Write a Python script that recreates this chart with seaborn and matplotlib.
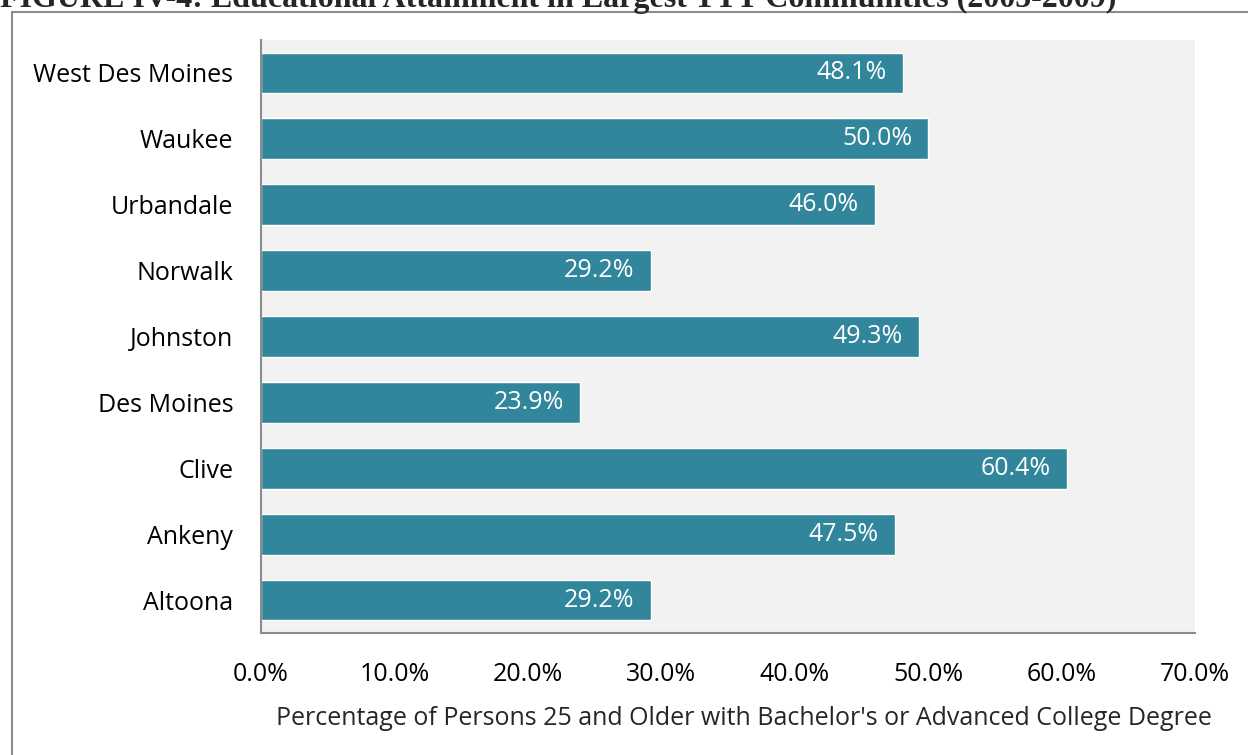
import matplotlib
matplotlib.use("Agg")
import matplotlib.pyplot as plt
from matplotlib.patches import Rectangle
import seaborn as sns
import pandas as pd

# data, top to bottom as in the chart
cities = ["West Des Moines", "Waukee", "Urbandale", "Norwalk", "Johnston",
          "Des Moines", "Clive", "Ankeny", "Altoona"]
pct = [48.1, 50.0, 46.0, 29.2, 49.3, 23.9, 60.4, 47.5, 29.2]
xticks = [0, 10, 20, 30, 40, 50, 60, 70]

df = pd.DataFrame({"City": cities, "Pct": pct})

sns.set_style("white")
plt.rcParams["font.family"] = ["Open Sans", "DejaVu Sans"]

fig = plt.figure(figsize=(12.48, 7.55), dpi=100)
ax = fig.add_axes([261/1248, 1 - 633/755, (1195-261)/1248, (633-40)/755])

bar_color = "#31869b"
sns.barplot(data=df, x="Pct", y="City", color=bar_color, width=0.62,
            saturation=1, ax=ax, order=cities)

fs = 18
ax.set_facecolor("#f2f2f2")
ax.set_xlim(0, 70)
ax.set_ylim(8.5, -0.5)
ax.set_xticks(xticks)
ax.set_xticklabels([f"{t:.1f}%" for t in xticks], fontsize=fs, color="black")
ax.tick_params(axis="x", length=0, pad=21)
ax.tick_params(axis="y", length=0, pad=20, labelsize=fs, labelcolor="black")
ax.set_ylabel("")
ax.set_xlabel("Percentage of Persons 25 and Older with Bachelor's or Advanced College Degree",
              fontsize=fs)
ax.xaxis.set_label_coords((744 - 261) / (1195 - 261), -(706 - 633) / (633 - 40))
for s in ["top", "right"]:
    ax.spines[s].set_visible(False)
for s in ["left", "bottom"]:
    ax.spines[s].set_color("#8c8c8c")
    ax.spines[s].set_linewidth(1.5)

for i, v in enumerate(pct):
    ax.text(v - 1.2, i, f"{v:.1f}%", color="white", ha="right", va="center", fontsize=fs)

# outer frame and clipped figure caption
fig.patches.append(Rectangle((12/1248, -0.05), 1.2, 1 - 12/755 + 0.05,
                             transform=fig.transFigure, fill=False,
                             edgecolor="#8c8c8c", linewidth=1.5))
fig.text(0.0, 1 - 7/755, "FIGURE IV-4: Educational Attainment in Largest TTT Communities (2005-2009)",
         family=["Liberation Serif", "DejaVu Serif"], weight="bold", fontsize=23,
         va="baseline", ha="left")

fig.savefig("out.png", dpi=100)
